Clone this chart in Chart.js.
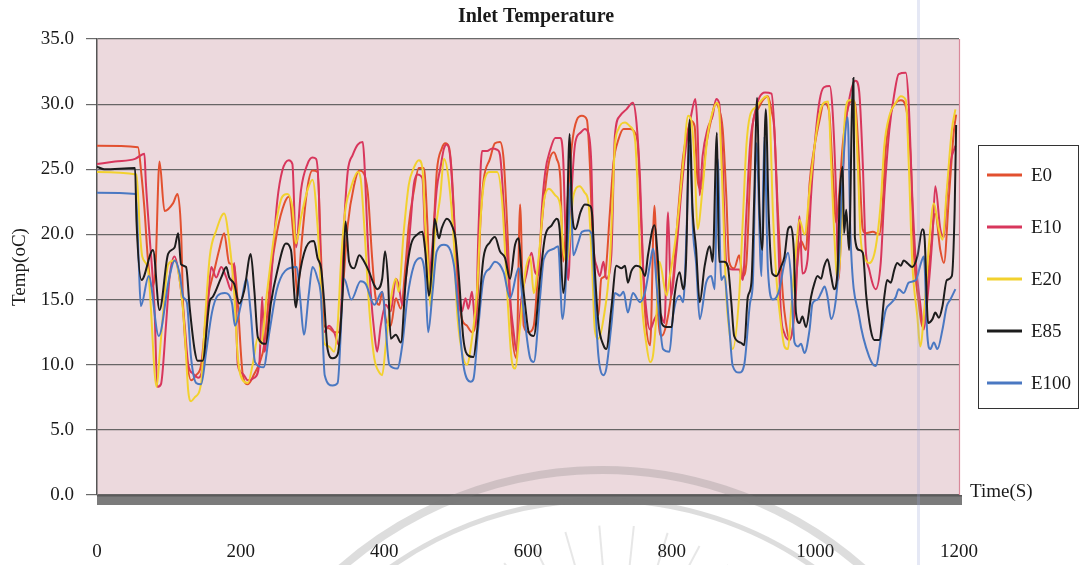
<!DOCTYPE html>
<html>
<head>
<meta charset="utf-8">
<script src="https://cdn.jsdelivr.net/npm/chart.js@4.4.1/dist/chart.umd.min.js"></script>
<style>
html,body{margin:0;padding:0;background:#fff;}
#wrap{width:1079px;height:565px;position:relative;}
</style>
</head>
<body>
<div id="wrap"><canvas id="c" width="1079" height="565"></canvas></div>
<script>
// ---------------- DATA ----------------
const chartTitle = 'Inlet Temperature';
const yAxisTitle = 'Temp(oC)';
const xAxisTitle = 'Time(S)';
const seriesNames = ['E0', 'E10', 'E20', 'E85', 'E100'];
const xTickValues = [0, 200, 400, 600, 800, 1000, 1200];
const yTickValues = [0, 5, 10, 15, 20, 25, 30, 35];

const e0Time = [0,57,62,66,71,76,81,87,94,106,112,117,120,124,131,138,145,154,164,170,177,184,191,196,203,210,219,226,233,242,251,261,267,274,279,284,293,300,307,312,316,323,330,337,342,349,358,365,370,377,383,388,393,397,402,409,416,423,430,434,441,448,455,460,464,469,473,480,485,490,494,499,504,508,515,522,529,534,538,547,554,561,566,571,577,584,589,594,601,608,615,622,629,636,640,645,649,654,661,668,675,682,686,691,698,702,707,714,719,726,733,742,749,753,758,763,770,776,781,786,793,802,809,816,823,827,832,836,841,848,855,861,866,871,876,880,887,894,899,904,909,913,920,927,934,939,943,948,955,959,964,969,973,980,987,992,999,1006,1012,1019,1024,1029,1033,1038,1045,1052,1056,1061,1066,1070,1080,1089,1093,1098,1105,1112,1119,1126,1133,1137,1144,1149,1153,1160,1167,1174,1179,1186,1193,1196];
const e0Temp = [26.8,26.7,24.5,22,18,16,17,25.6,21.8,22.4,23.1,20.3,14.4,11,8.8,9.2,10,15.0,17.4,18.8,20.1,17.8,17.6,14.7,9.2,8.5,9.3,10.1,11.6,17.0,20.3,22.4,22.9,19.5,15.2,18.8,23.6,24.9,24.8,18.2,13.0,12.8,12.5,12.5,15.6,20.7,23.8,24.9,24.8,23.2,18.2,15.1,14.6,15.6,13.5,13.0,15.1,14.3,18,20.7,23.3,25.1,25.1,20.7,15.1,20.7,24.8,26.6,27.0,26.7,24.6,19.4,15.1,13.5,13.0,12.5,14.3,21.2,24.1,25.8,27.0,27.1,25.8,20.7,13.0,10.5,22.3,13.0,12.5,13.0,17.9,22.5,25.5,26.3,25.8,24.3,17.9,21.7,26.8,28.8,29.1,28.8,25.5,17.9,13.8,16.6,16.8,21.7,25.5,27.3,28.1,28.1,27.8,26.8,20.4,14.0,11.5,22.2,14.0,12.2,13.2,16.6,21.7,26.0,28.1,28.7,28.3,24.2,23.5,26.8,28.8,30.1,29.6,28.1,23.0,17.9,17.4,18.4,16.8,17.8,24.2,28.5,29.6,30.3,30.6,29.5,28.0,21.6,15.2,13.2,11.9,13.0,16.5,19.5,18.8,23.9,26.8,28.8,30.1,29.5,25.0,20.9,22.9,26.8,29.6,30.3,29.8,25.5,20.4,20.1,20.2,20.0,21.6,26.5,29.3,30.1,30.3,29.8,25.5,18.8,14.7,12.9,14.5,18.5,21.6,18.8,17.8,22.9,28.0,29.2];

const e10Time = [0,25,53,66,68,73,80,84,89,96,101,108,113,117,122,127,134,141,147,154,159,166,173,180,187,191,196,203,210,219,226,230,233,238,245,251,258,267,272,277,284,293,300,305,309,312,316,323,330,337,344,349,356,363,370,372,377,381,386,390,395,402,409,416,420,425,430,437,441,446,453,457,462,467,473,478,483,487,492,497,501,508,513,517,522,527,531,536,543,550,557,561,568,575,580,584,591,598,605,610,615,619,624,631,638,645,649,652,656,661,666,673,679,684,688,691,696,700,705,709,716,721,728,737,746,751,756,760,765,770,776,783,790,795,799,806,813,820,827,833,836,839,843,850,857,862,866,871,876,885,894,899,904,909,915,922,930,939,943,948,952,957,964,973,978,982,989,994,999,1006,1012,1020,1024,1029,1032,1036,1040,1047,1056,1061,1066,1070,1075,1084,1091,1096,1103,1110,1116,1126,1130,1135,1140,1146,1151,1156,1163,1167,1174,1179,1183,1188,1195];
const e10Temp = [25.4,25.6,25.8,26.2,24,20,14.4,8.3,8.5,13,16.7,18.3,17.3,15.7,13.1,10.0,9.3,9.0,9.8,14.4,17.5,16.7,17.5,16.7,15.7,17.8,10,9.3,8.8,9.0,10.1,15.2,11,13,18.5,22.6,24.9,25.7,25.4,19.0,23.4,25.4,25.9,25.8,23,15.6,12.5,13.0,12.5,11.5,20.7,24.8,26.1,26.9,27.1,25.8,19.4,15.6,12.5,11.0,13.0,14.6,14.1,16.6,16.1,14.6,16.6,21.2,23.8,24.6,24.3,19.4,16.6,19.2,23.5,25.1,26.6,26.9,25.8,21.2,16,14.1,15.1,14.3,15.6,13.0,20.2,26.4,26.4,26.6,26.5,26.1,20.7,15.1,12.5,11.0,15.1,17.0,18.6,17.1,16.9,21.7,24.8,26.5,27.4,27.4,25.8,20.4,16.5,23.5,27.1,27.8,28.1,27.8,25.6,19.3,17.5,16.8,17.9,16.6,18.4,27.6,29.1,29.6,30.1,28.6,24.2,17.8,14.0,12.7,13.5,14.0,13.2,21.7,15.3,18.4,23.0,26.8,29.1,30.4,28.1,23.0,26.0,28.1,29.1,30.4,30.1,25.5,17.8,17.3,17.3,16.5,21.6,26.8,29.1,30.5,30.9,30.8,28.0,20.4,14.0,12.4,11.9,15.5,21.4,17.0,18.0,22.9,26.8,30.3,31.3,31.4,29.5,22.9,16.5,20.4,26.8,30.3,31.8,31.0,25.5,19.0,17.3,15.8,17.8,22.9,28.0,30.8,32.3,32.4,30.0,22.9,17.8,14.7,12.7,15.0,19.8,23.7,20.4,19.8,22.9,25.5,26.8];

const e20Time = [0,55,60,63,71,83,87,92,99,108,117,122,127,131,136,145,150,157,166,177,184,191,196,203,210,217,224,228,237,249,258,265,272,277,284,293,300,307,312,316,323,330,335,340,346,353,363,367,372,379,386,393,397,402,409,416,420,427,434,441,448,453,457,462,464,470,478,483,490,497,501,508,515,522,529,534,540,547,557,564,571,577,582,589,596,603,608,615,622,629,638,645,649,654,663,672,679,684,689,693,698,705,714,721,726,735,742,749,753,758,765,770,774,779,783,793,797,806,811,816,823,827,832,836,843,850,857,863,866,871,876,880,885,894,899,904,909,918,925,932,936,941,946,952,957,962,966,973,978,985,992,999,1006,1012,1018,1022,1026,1031,1036,1040,1047,1054,1059,1063,1068,1075,1084,1091,1096,1103,1112,1119,1126,1130,1135,1142,1146,1151,1158,1165,1172,1177,1183,1190,1195];
const e20Temp = [24.8,24.6,20,18.3,17.3,8.3,10.6,14,17.7,18.0,15.7,12.6,8.0,7.2,7.5,8.6,13.1,18.3,20.3,21.6,19.5,15.5,10.6,8.8,8.6,10.1,12.1,11.6,15.7,20.8,22.9,23.1,22.1,19.3,21.3,23.4,24.2,20.7,15.6,11.7,11.4,11.0,13,18.2,22.0,23.5,24.8,24.3,20.7,14.3,10.5,9.4,9.2,11.5,15.0,16.6,15.6,20.2,23.8,25.1,25.7,25.1,20.7,16.6,14.5,19.7,23,25.8,24,19.2,14.3,11.0,10.0,12.0,15.6,21.2,24.3,24.8,24.8,22.5,15.6,10.5,9.7,13.0,17.0,18.3,15.5,18.3,22.5,23.5,23.0,22.2,18.9,17.9,22.9,23.7,23.2,22.5,17.9,12.7,12.0,13.5,17.9,26.8,28.1,28.6,28.3,27.3,23.0,15.3,11.5,10.2,10.7,14.0,17.9,15.3,16.6,19.9,22.5,25.5,29.1,28.8,25.5,20.4,23.5,27.6,29.4,30.1,29.6,23.0,15.3,12.7,11.2,15.3,21.0,26.8,29.1,29.8,30.3,30.6,29.8,21.6,16.5,13.2,11.4,11.2,14.0,18.8,21.1,20.0,23.4,26.8,29.3,30.1,30.2,25.5,20.4,16.5,19.8,28.0,30.3,30.3,25.5,19.8,18.3,17.8,19.0,22.4,26.8,29.1,30.1,30.6,30.3,25.5,17.8,13.7,11.4,13.7,19.1,22.4,20.4,19.6,23.4,28.0,29.6];

const e85Time = [0,10,53,55,62,78,87,99,108,113,117,124,129,136,140,147,157,161,173,180,184,191,198,205,214,219,224,235,242,251,263,270,277,281,291,302,307,312,316,321,328,335,342,346,351,358,365,372,379,386,390,397,401,405,409,416,423,430,437,446,453,457,462,467,470,476,480,487,494,499,504,510,517,524,529,538,547,554,561,568,575,582,587,591,596,601,608,617,624,633,640,644,649,653,658,661,666,673,679,686,689,693,698,705,709,716,723,730,735,739,744,751,758,763,767,776,781,786,793,800,804,811,816,820,825,829,834,839,846,853,857,863,866,873,878,883,887,896,901,906,911,915,919,922,926,931,935,940,946,952,957,962,966,970,973,978,982,987,994,999,1003,1008,1012,1017,1022,1026,1031,1034,1038,1040,1043,1047,1051,1053,1055,1061,1066,1071,1077,1082,1089,1096,1100,1105,1110,1114,1119,1123,1128,1135,1142,1149,1152,1157,1163,1167,1172,1177,1183,1190,1194,1196];
const e85Temp = [25.2,25.0,25.1,21,16.5,18.8,14.2,18.5,19.0,20.1,17.7,17.5,14.4,11.1,10.3,10.3,14.9,15.2,16.7,17.5,16.7,16.2,14.7,15.7,18.5,15.7,12.1,11.6,14.7,17.2,19.3,18.8,14.4,16.5,19.0,19.5,18.2,17.4,15,11.2,10.5,10.8,15.6,21.0,17.9,17.4,18.4,17.9,17.1,16.1,15.8,16.6,18.7,16.6,12.0,12.3,11.7,16.6,19.2,20.0,20.2,18.7,15.3,18.2,21.2,19.7,20.5,21.2,20.7,19.7,16.6,12.0,10.7,10.6,12.5,18.2,19.4,19.8,18.7,18.2,16.6,19.2,19.7,17.1,14.6,12.5,12.2,16.8,19.9,20.7,21.2,20.4,15.5,18,27.7,22.2,20.4,21.7,22.3,22.2,21.7,17.3,13.2,11.5,11.2,14.3,17.6,17.4,17.6,16.3,17.2,17.6,17.4,16.8,18.4,20.7,17.9,13.2,12.9,12.9,15.3,17.1,15.8,17.9,28.8,22,18.9,14.8,17.6,19.1,17.9,27.8,17.9,17.9,17.6,14.8,12.2,11.7,11.5,15.2,16.3,22.9,30.5,22.4,18.8,29.6,21.6,17.0,16.8,17.5,18.3,20.4,20.6,18.8,14.0,13.2,13.7,12.9,15.2,16.3,16.8,16.6,17.5,18.1,16.8,15.8,17.3,22.9,25.2,20.1,21.9,18.8,29.6,32.0,19.8,18.8,18.6,15.2,12.7,11.9,11.9,15.2,16.5,16.3,17.3,17.8,17.6,18.0,17.8,17.5,18.3,20.4,19.8,13.2,13.5,14.0,13.6,14.5,16.5,16.8,22,28.4];

const e100Time = [0,54,58,61,72,86,100,108,115,120,125,131,138,145,152,160,168,178,188,192,200,208,214,220,232,240,250,262,278,283,288,295,300,307,312,317,328,335,344,354,367,374,386,397,407,418,425,432,441,450,457,461,467,473,483,497,501,510,520,524,531,538,547,554,566,575,587,594,603,608,617,622,636,642,648,656,659,663,670,675,684,689,693,698,705,709,716,721,728,733,739,746,756,763,770,774,781,788,797,802,811,816,820,825,830,834,839,848,855,860,864,869,873,880,885,894,901,909,913,918,925,929,934,941,946,950,957,962,966,971,976,980,985,992,996,1003,1008,1013,1017,1022,1029,1033,1037,1045,1049,1061,1075,1084,1093,1098,1105,1112,1116,1123,1130,1140,1147,1151,1156,1160,1165,1170,1177,1183,1188,1195];
const e100Temp = [23.2,23.1,18,14.5,16.8,12.2,16.5,18.0,17.0,15.2,14.8,10.5,8.6,8.5,11.0,14.0,15.3,15.5,14.7,13.0,14.5,16.6,14.0,10.2,9.8,12.5,15.7,17.2,17.5,15,12.3,15.5,17.5,16.6,15.1,9.2,8.4,8.6,16.6,15.0,16.4,16.2,14.6,15.6,10.0,9.7,11.5,15.1,17.6,18.2,16.6,12.5,15.5,18.7,19.2,17.6,15.3,10.0,8.7,8.9,13.0,16.6,17.4,17.9,17.1,15.1,17.4,14.1,10.5,10.2,15.3,18.1,18.9,19.1,13.5,20,24,18.4,19.4,20.2,20.3,19.9,15.3,10.7,9.2,9.7,13.0,15.5,15.3,15.6,14.0,15.5,14.8,15.6,17.8,18.9,14.8,11.2,11.0,13.8,15.3,14.8,19,26.8,20,17.8,13.5,16.3,16.8,15.8,25.8,16.5,16.8,13.0,9.9,9.4,10.0,14.7,16.3,27,16.8,27.5,17.3,15.0,15.2,15.8,17.8,18.6,16.8,11.7,11.4,11.6,10.9,12.7,14.7,15.0,15.5,16.0,15.2,13.5,15.2,18.1,23.4,29.0,19.8,13.7,10.6,9.9,12.7,14.2,14.7,15.2,15.8,15.5,16.3,16.5,17.8,18.3,12.2,11.2,11.7,11.2,12.7,14.5,15.0,15.8];

const seriesTimes = [e0Time, e10Time, e20Time, e85Time, e100Time];
const seriesTemps = [e0Temp, e10Temp, e20Temp, e85Temp, e100Temp];

// ---------------- STYLE ----------------
const FONT = "'Liberation Serif','Times New Roman',serif";
const seriesColors = ['#e2502f', '#d8365c', '#f2d12e', '#1c1c1c', '#4a78c2'];
const drawOrder = [5, 4, 3, 1, 2];

const datasets = seriesNames.map((name, i) => ({
  label: name,
  data: seriesTimes[i].map((t, k) => ({ x: t, y: seriesTemps[i][k] })),
  borderColor: seriesColors[i],
  backgroundColor: seriesColors[i],
  borderWidth: 2,
  pointRadius: 0,
  fill: false,
  cubicInterpolationMode: 'monotone',
  order: drawOrder[i]
}));

const decor = {
  id: 'decor',
  beforeDraw(chart) {
    const { ctx, chartArea: a } = chart;
    ctx.save();
    ctx.fillStyle = '#ffffff';
    ctx.fillRect(0, 0, chart.width, chart.height);
    ctx.fillStyle = '#ecd9dd';
    ctx.fillRect(a.left, a.top, a.right - a.left, a.bottom - a.top);
    ctx.restore();
  },
  afterDraw(chart) {
    const { ctx, chartArea: a } = chart;
    ctx.save();
    // right border of the plot
    ctx.strokeStyle = '#d9899a';
    ctx.lineWidth = 1.2;
    ctx.beginPath();
    ctx.moveTo(a.right + 0.5, a.top);
    ctx.lineTo(a.right + 0.5, a.bottom);
    ctx.stroke();
    // grey floor
    ctx.fillStyle = '#7b7b7b';
    ctx.fillRect(a.left, a.bottom, a.right + 3 - a.left, 10);
    ctx.fillStyle = '#5a5a5a';
    ctx.fillRect(a.left, a.bottom, a.right + 3 - a.left, 1.5);
    // title
    ctx.fillStyle = '#1a1a1a';
    ctx.font = 'bold 20px ' + FONT;
    ctx.textAlign = 'center';
    ctx.textBaseline = 'middle';
    ctx.fillText(chartTitle, 536, 17);
    // x axis title
    ctx.font = '19px ' + FONT;
    ctx.textAlign = 'left';
    ctx.fillText(xAxisTitle, 970, 492);
    // legend
    const lx = 978.5, ly = 145.5, lw = 100, lh = 263;
    ctx.fillStyle = '#ffffff';
    ctx.fillRect(lx, ly, lw, lh);
    ctx.strokeStyle = '#333';
    ctx.lineWidth = 1;
    ctx.strokeRect(lx, ly, lw, lh);
    const ys = [175, 227, 279, 331, 383];
    chart.data.datasets.forEach((ds, i) => {
      ctx.strokeStyle = ds.borderColor;
      ctx.lineWidth = 3;
      ctx.beginPath();
      ctx.moveTo(987, ys[i]);
      ctx.lineTo(1022, ys[i]);
      ctx.stroke();
      ctx.fillStyle = '#1a1a1a';
      ctx.font = '19px ' + FONT;
      ctx.textAlign = 'left';
      ctx.textBaseline = 'middle';
      ctx.fillText(ds.label, 1031, ys[i] + 1);
    });
    // faint scan stripe
    ctx.fillStyle = 'rgba(150,165,215,0.25)';
    ctx.fillRect(917, 0, 3, chart.height);
    // watermark arcs
    ctx.strokeStyle = 'rgba(120,120,120,0.25)';
    ctx.lineWidth = 8;
    ctx.beginPath();
    ctx.arc(602, 866, 396, Math.PI * 1.1, Math.PI * 1.9);
    ctx.stroke();
    ctx.lineWidth = 5;
    ctx.beginPath();
    ctx.arc(602, 866, 366, Math.PI * 1.1, Math.PI * 1.9);
    ctx.stroke();
    ctx.strokeStyle = 'rgba(120,120,120,0.18)';
    ctx.lineWidth = 2;
    for (let k = 0; k < 8; k++) {
      const ang = (-128 + k * 11) * Math.PI / 180;
      ctx.beginPath();
      ctx.moveTo(615 + Math.cos(ang) * 140, 705 + Math.sin(ang) * 140);
      ctx.lineTo(615 + Math.cos(ang) * 180, 705 + Math.sin(ang) * 180);
      ctx.stroke();
    }
    ctx.restore();
  }
};

new Chart(document.getElementById('c'), {
  type: 'line',
  data: { datasets },
  options: {
    responsive: false,
    devicePixelRatio: 1,
    animation: false,
    layout: { padding: { top: 39, left: 0, right: 120, bottom: 0 } },
    plugins: { legend: { display: false }, title: { display: false }, tooltip: { enabled: false } },
    scales: {
      x: {
        type: 'linear',
        min: xTickValues[0],
        max: xTickValues[xTickValues.length - 1],
        afterFit(scale) { scale.height = 70; },
        afterBuildTicks(scale) { scale.ticks = xTickValues.map(v => ({ value: v })); },
        grid: { display: false, drawTicks: false },
        border: { display: false },
        ticks: { padding: 46, maxRotation: 0, autoSkip: false, color: '#1a1a1a', font: { family: FONT, size: 19 }, callback: v => String(v) }
      },
      y: {
        min: yTickValues[0],
        max: yTickValues[yTickValues.length - 1],
        afterFit(scale) { scale.width = 97; },
        afterBuildTicks(scale) { scale.ticks = yTickValues.map(v => ({ value: v })); },
        grid: { color: 'rgba(80,80,80,0.85)', lineWidth: 1.2, tickLength: 11 },
        border: { display: true, color: '#555', width: 1.5 },
        ticks: { padding: 12, color: '#1a1a1a', font: { family: FONT, size: 19 }, callback: v => Number(v).toFixed(1) },
        title: { display: true, text: yAxisTitle, color: '#1a1a1a', font: { family: FONT, size: 19 }, padding: { top: 9, bottom: 0 } }
      }
    }
  },
  plugins: [decor]
});
</script>
</body>
</html>
